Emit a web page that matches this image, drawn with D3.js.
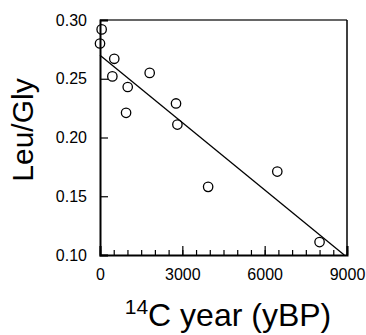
<!DOCTYPE html>
<html>
<head>
<meta charset="utf-8">
<script src="https://cdn.jsdelivr.net/npm/d3@7"></script>
<style>
  body { margin: 0; background: #fff; }
  svg { font-family: "Liberation Sans", Arial, sans-serif; }
</style>
</head>
<body>
<div id="chart"></div>
<script>
// 14C age (yBP) vs Leu/Gly ratio
const ages = [60, 0, 520, 450, 1010, 950, 1810, 2770, 2820, 3940, 6460, 8000];
const ratios = [0.292, 0.280, 0.267, 0.252, 0.243, 0.221, 0.255, 0.229, 0.211, 0.158, 0.171, 0.111];
// fitted line ends
const fitX = [0, 8900];
const fitY = [0.270, 0.100];
const yTicks = [0.10, 0.15, 0.20, 0.25, 0.30];
const xTicks = [0, 3000, 6000, 9000];

const W = 366, H = 335;
const margin = {top: 20, right: 19, bottom: 80, left: 100};
const width = W - margin.left - margin.right;
const height = H - margin.top - margin.bottom;

const svg = d3.select("#chart").append("svg")
  .attr("width", W)
  .attr("height", H);

const g = svg.append("g")
  .attr("transform", "translate(" + margin.left + "," + margin.top + ")");

let x = d3.scaleLinear().domain([0, 9000]).range([0, width]);
let y = d3.scaleLinear().domain([0.10, 0.30]).range([height, 0]);

// top + right frame
g.append("line").attr("x1", 0).attr("x2", width).attr("y1", 0).attr("y2", 0)
  .attr("stroke", "#666").attr("stroke-width", 2);
g.append("line").attr("x1", width).attr("x2", width).attr("y1", 0).attr("y2", height)
  .attr("stroke", "#000").attr("stroke-width", 1.5);

// minor x ticks (inward)
const xAxisMinor = g.append("g")
  .attr("transform", "translate(0," + height + ")")
  .call(d3.axisBottom(x).tickValues(d3.range(0, 9001, 500)).tickSize(-5).tickFormat(""));
xAxisMinor.select(".domain").remove();

const xAxis = g.append("g")
  .attr("transform", "translate(0," + height + ")")
  .call(d3.axisBottom(x).tickValues(xTicks).tickSize(-9).tickPadding(23).tickFormat(d3.format("d")));

const yAxis = g.append("g")
  .call(d3.axisLeft(y).tickValues(yTicks).tickSize(-8).tickPadding(13).tickFormat(d3.format(".2f")));

[xAxis, yAxis, xAxisMinor].forEach(a => {
  a.selectAll(".domain").attr("stroke-width", 2).attr("stroke", "#000");
  a.selectAll(".tick line").attr("stroke", "#000").attr("stroke-width", 1.2);
  a.selectAll("text").attr("font-size", 16).attr("fill", "#000");
});
xAxis.selectAll(".tick text").attr("dy", "0.1em");

// regression line
g.append("line")
  .attr("x1", x(fitX[0])).attr("y1", y(fitY[0]))
  .attr("x2", x(fitX[1])).attr("y2", y(fitY[1]))
  .attr("stroke", "#000").attr("stroke-width", 1.3);

// points
g.selectAll("circle.pt").data(ages)
  .enter()
  .append("circle")
    .attr("class", "pt")
    .attr("cx", d => x(d))
    .attr("cy", (d, i) => y(ratios[i]))
    .attr("r", 4.7)
    .attr("fill", "none")
    .attr("stroke", "#000")
    .attr("stroke-width", 1.3);

// axis titles
svg.append("text")
  .attr("transform", "translate(33,130) rotate(-90)")
  .attr("text-anchor", "middle")
  .attr("font-size", 30)
  .text("Leu/Gly");

const xt = svg.append("text")
  .attr("x", 228)
  .attr("y", 326)
  .attr("text-anchor", "middle")
  .attr("font-size", 32);
xt.append("tspan").attr("font-size", 21).attr("dy", "-12").text("14");
xt.append("tspan").attr("dy", "12").text("C year (yBP)");
</script>
</body>
</html>
